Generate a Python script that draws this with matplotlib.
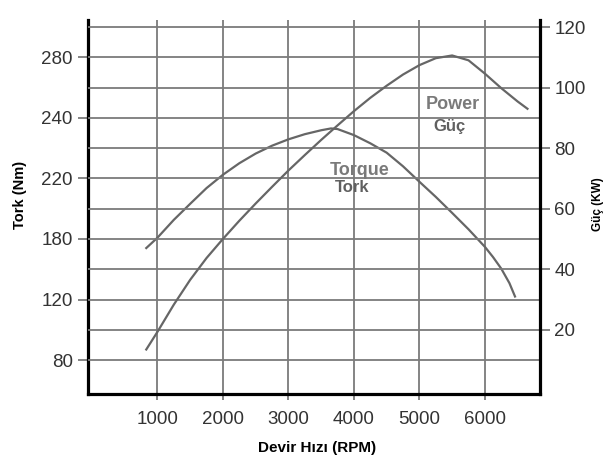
import numpy as np
import matplotlib
matplotlib.use('Agg')
import matplotlib.pyplot as plt
from matplotlib.ticker import FixedLocator

plt.rcParams['font.family'] = ['Liberation Sans', 'DejaVu Sans']

# values
rpm_torque = [830, 1000, 1250, 1500, 1750, 2000, 2250, 2500, 2750, 3000, 3250, 3500, 3650,
              3750, 4000, 4250, 4500, 4750, 5000, 5250, 5500, 5750, 6000, 6125, 6250, 6375, 6460]
torque_nm = [171, 180.8, 192.6, 203.2, 213.6, 221.2, 225, 228.2, 230.8, 232.9, 234.6, 235.9, 236.5,
             236.3, 234.3, 231.6, 228.5, 224, 217.8, 207.8, 197.2, 186.4, 172.2, 162, 150.6, 136.2, 123]

rpm_power = [830, 1000, 1250, 1500, 1750, 2000, 2250, 2500, 2750, 3000, 3250, 3500, 3750,
             4000, 4250, 4500, 4750, 5000, 5250, 5500, 5750, 6000, 6250, 6500, 6650]
power_kw = [13.5, 19.3, 28.3, 36.5, 43.7, 50.0, 56.0, 61.7, 67.2, 72.6, 77.7, 82.7, 87.5,
            92.2, 96.6, 100.6, 104.3, 107.4, 109.7, 110.6, 109.0, 104.6, 99.8, 95.4, 93.0]

rpm_ticks = [1000, 2000, 3000, 4000, 5000, 6000]
tork_ticks = [80, 120, 180, 220, 240, 280]
guc_ticks = [20, 40, 60, 80, 100, 120]
guc_minor = [10, 30, 50, 70, 90, 110]

# torque labels sit evenly on every other grid line, so the scale is piecewise
tork_pos = [-20] + guc_minor + [140]
tork_val = [20] + tork_ticks + [340]

def fwd(v):
    return np.interp(v, tork_val, tork_pos)

def inv(p):
    return np.interp(p, tork_pos, tork_val)

GRID = '#7b7b7b'
LINE = '#666666'

fig = plt.figure(figsize=(6.08, 4.66), dpi=100)
ax = fig.add_axes([0.1447, 0.1545, 0.7433, 0.8025])
ax2 = ax.twinx()

ax.set_xlim(-60, 6840)
ax.set_yscale('function', functions=(fwd, inv))
ax.set_ylim(inv(-1.2), inv(122.3))
ax2.set_ylim(-1.2, 122.3)

ax.plot(rpm_torque, torque_nm, color=LINE, lw=1.6, zorder=3)
ax2.plot(rpm_power, power_kw, color=LINE, lw=1.6, zorder=3)

ax.xaxis.set_major_locator(FixedLocator(rpm_ticks))
ax.yaxis.set_major_locator(FixedLocator(tork_ticks))
ax.yaxis.set_minor_locator(FixedLocator([]))
ax.set_yticklabels([str(t) for t in tork_ticks])
ax2.yaxis.set_major_locator(FixedLocator(guc_ticks))
ax2.yaxis.set_minor_locator(FixedLocator(guc_minor))

ax.grid(axis='x', color=GRID, lw=1.3)
ax2.grid(axis='y', which='both', color=GRID, lw=1.3)
ax.set_axisbelow(True)

ax.tick_params(axis='x', length=4.5, width=1.3, color=GRID, labelsize=13.5, labelcolor='#333333', pad=7.5)
ax.tick_params(axis='y', length=7, width=1.3, color=GRID, labelsize=13.5, labelcolor='#333333', pad=4)
ax2.tick_params(axis='y', which='major', length=7, width=1.3, color=GRID, labelsize=13.5,
                labelcolor='#333333', pad=3.5)
ax2.tick_params(axis='y', which='minor', length=0)

for a in (ax, ax2):
    a.spines['top'].set_visible(False)
ax.spines['right'].set_visible(False)
ax2.spines['left'].set_visible(False)
ax2.spines['bottom'].set_visible(False)
ax.spines['left'].set_linewidth(2.3)
ax.spines['bottom'].set_linewidth(2.3)
ax2.spines['right'].set_linewidth(2.3)
ax.patch.set_visible(False)

fig.text(0.521, 0.0386, 'Devir Hızı (RPM)', ha='center', va='center', fontsize=11, fontweight='bold')
fig.text(0.033, 0.582, 'Tork (Nm)', ha='center', va='center', rotation=90, fontsize=10.5, fontweight='bold')
fig.text(0.9836, 0.562, 'Güç (KW)', ha='center', va='center', rotation=90, fontsize=8.5, fontweight='bold')

fig.text(0.745, 0.775, 'Power', ha='center', va='center', fontsize=13, fontweight='bold', color='#7a7a7a')
fig.text(0.740, 0.7275, 'Güç', ha='center', va='center', fontsize=12, fontweight='bold', color='#606060')
fig.text(0.592, 0.635, 'Torque', ha='center', va='center', fontsize=13, fontweight='bold', color='#7a7a7a')
fig.text(0.579, 0.597, 'Tork', ha='center', va='center', fontsize=12, fontweight='bold', color='#606060')

fig.savefig('out.png', dpi=100, facecolor='white')
